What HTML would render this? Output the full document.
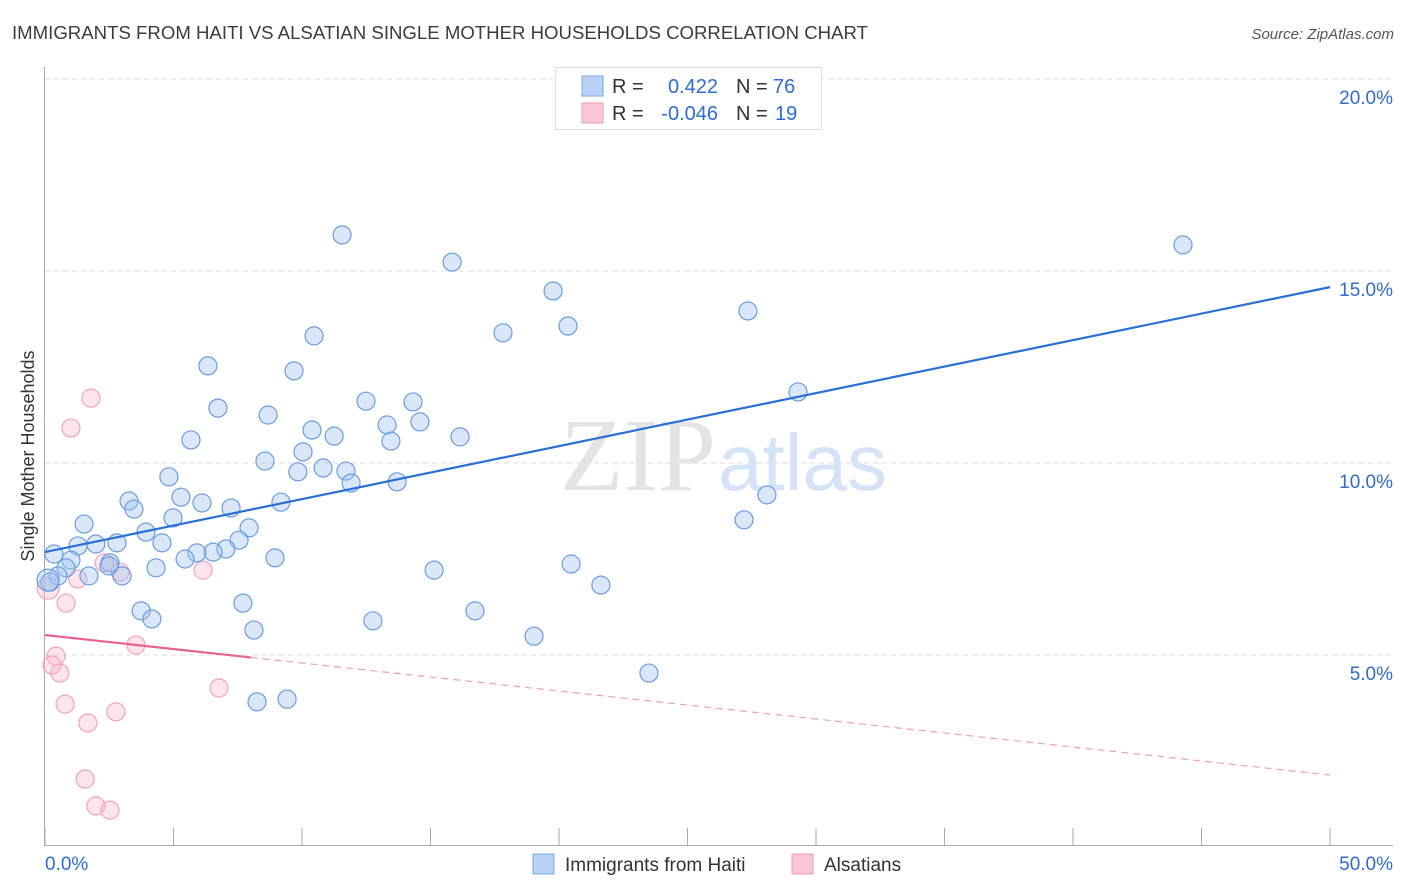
<!DOCTYPE html>
<html><head><meta charset="utf-8"><style>
body{margin:0;background:#fff;font-family:"Liberation Sans",sans-serif;}
svg{display:block}
</style></head><body>
<svg id="chart" width="1406" height="892" xmlns="http://www.w3.org/2000/svg" font-family="Liberation Sans, sans-serif">
<text x="12" y="39" font-size="18.6" fill="#3c3c3c" textLength="856" lengthAdjust="spacingAndGlyphs">IMMIGRANTS FROM HAITI VS ALSATIAN SINGLE MOTHER HOUSEHOLDS CORRELATION CHART</text>
<text x="1394" y="39" font-size="15" fill="#555" font-style="italic" text-anchor="end">Source: ZipAtlas.com</text>
<g id="grid"></g>
<g id="axes"></g>
<text x="716" y="490" font-size="104" fill="#e4e4e4" text-anchor="end" font-family="Liberation Serif, serif">ZIP</text>
<text x="718" y="490" font-size="80" fill="#d4e3f5">atlas</text>
<g id="pink"></g>
<g id="blue"></g>
<g id="trends"></g>
<text transform="translate(34,456) rotate(-90)" font-size="18" fill="#333" text-anchor="middle">Single Mother Households</text>
<g>
<rect x="555.5" y="67.5" width="266" height="62" fill="#fff" stroke="#ddd"/>
<rect x="582" y="76" width="21" height="20" fill="#b8d3f5" stroke="#7aa7e4"/>
<rect x="582" y="103" width="21" height="20" fill="#f9c6d5" stroke="#f09ab5"/>
<text x="612" y="93" font-size="20" fill="#333">R =</text>
<text x="718" y="93" font-size="20" fill="#2f6bd1" text-anchor="end">0.422</text>
<text x="736" y="93" font-size="20" fill="#333">N =</text>
<text x="773" y="93" font-size="20" fill="#2f6bd1">76</text>
<text x="612" y="120" font-size="20" fill="#333">R =</text>
<text x="718" y="120" font-size="20" fill="#2f6bd1" text-anchor="end">-0.046</text>
<text x="736" y="120" font-size="20" fill="#333">N =</text>
<text x="775" y="120" font-size="20" fill="#2f6bd1">19</text>
</g>
<g>
<rect x="533" y="854" width="21" height="20" fill="#b8d3f5" stroke="#7aa7e4"/>
<text x="565" y="871" font-size="19" fill="#333">Immigrants from Haiti</text>
<rect x="792" y="854" width="21" height="20" fill="#f9c6d5" stroke="#f09ab5"/>
<text x="824" y="871" font-size="19" fill="#333">Alsatians</text>
</g>
</svg>
<script>
const blueX=[11.56,15.84,44.28,19.77,20.35,27.35,10.47,17.82,6.34,9.69,29.30,12.49,14.32,6.73,8.68,14.59,13.31,10.39,11.25,13.46,16.15,5.68,10.04,8.56,9.84,10.82,11.71,4.82,11.91,13.70,5.29,3.27,6.11,28.09,7.24,3.46,9.18,4.98,27.20,1.52,7.94,3.93,7.55,1.98,2.80,1.28,4.55,7.04,0.35,6.54,5.91,5.45,8.95,1.01,2.53,20.47,4.32,15.14,0.82,2.49,1.71,3.00,0.51,21.63,0.19,7.70,3.74,16.73,4.16,12.76,8.13,19.03,23.50,8.25,9.42,0.12];
const blueY=[15.94,15.23,15.68,14.48,13.57,13.96,13.31,13.39,12.53,12.40,11.85,11.61,11.59,11.43,11.25,11.07,10.99,10.86,10.70,10.57,10.68,10.60,10.29,10.05,9.77,9.87,9.79,9.64,9.48,9.51,9.11,9.01,8.96,9.17,8.83,8.80,8.98,8.57,8.52,8.41,8.31,8.20,7.99,7.89,7.92,7.84,7.92,7.76,7.63,7.68,7.66,7.50,7.53,7.47,7.40,7.37,7.27,7.21,7.27,7.32,7.06,7.06,7.06,6.82,6.90,6.35,6.15,6.15,5.94,5.89,5.65,5.49,4.53,3.78,3.85,6.95];
const pinkX=[1.79,1.01,0.12,0.82,1.28,2.92,2.30,6.15,3.54,0.43,0.27,0.58,6.77,0.78,2.76,1.67,1.56,1.98,2.53];
const pinkY=[11.69,10.91,6.74,6.35,6.98,7.16,7.40,7.21,5.26,4.97,4.74,4.53,4.14,3.72,3.52,3.23,1.77,1.07,0.96];
const blueTrend=[7.68,14.58];   // y at x=0 and x=50
const pinkTrend=[5.52,1.875];
const yTicks=[5,10,15,20];
const yTickLabels=["5.0%","10.0%","15.0%","20.0%"];
const xTicks=[0,5,10,15,20,25,30,35,40,45,50];

const X0=45,X1=1330,Y0=847,PPU=38.4;
const sx=v=>X0+(X1-X0)*v/50;
const sy=v=>Y0-v*PPU;
const NS="http://www.w3.org/2000/svg";
function mk(tag,attrs,parent){const e=document.createElementNS(NS,tag);for(const k in attrs)e.setAttribute(k,attrs[k]);parent.appendChild(e);return e;}
const grid=document.getElementById('grid'),axes=document.getElementById('axes');
yTicks.forEach((t,i)=>{
  const g=mk('line',{x1:45,x2:1393,y1:sy(t),y2:sy(t),stroke:'#ddd','stroke-dasharray':'5,4'},grid);
  
  
  const l=mk('text',{x:1393,y:sy(t)+25,'font-size':19,fill:'#2f6bd1','text-anchor':'end'},axes);
  l.textContent=yTickLabels[i];
  
  
});
const ya=mk('line',{x1:44.5,x2:44.5,y1:67,y2:845,stroke:'#aaa'},axes);


const xa=mk('line',{x1:44,x2:1393,y1:845.5,y2:845.5,stroke:'#aaa'},axes);


xTicks.forEach(t=>{
  const k=mk('line',{x1:sx(t),x2:sx(t),y1:828,y2:845,stroke:'#aaa'},axes);
  
  
});
const xl0=mk('text',{x:45,y:870,'font-size':19,fill:'#2f6bd1'},axes);xl0.textContent='0.0%';


const xl1=mk('text',{x:1393,y:870,'font-size':19,fill:'#2f6bd1','text-anchor':'end'},axes);xl1.textContent='50.0%';



const pg=document.getElementById('pink');
pinkX.forEach((x,i)=>{
  const c=mk('circle',{cx:sx(x),cy:sy(pinkY[i]),r:i===2?11:9,fill:'rgba(246,180,200,0.35)',stroke:'#f2a3bb','stroke-width':1.2},pg);
  
  
});
const bg=document.getElementById('blue');
blueX.forEach((x,i)=>{
  const c=mk('circle',{cx:sx(x),cy:sy(blueY[i]),r:i===75?11:9,fill:'rgba(160,196,240,0.4)',stroke:'#6a9de0','stroke-width':1.2},bg);
  
  
});
const tg=document.getElementById('trends');
const bt=mk('line',{x1:sx(0),y1:sy(blueTrend[0]),x2:sx(50),y2:sy(blueTrend[1]),stroke:'#2a6fd6','stroke-width':2.2},tg);


const pAt=x=>pinkTrend[0]+(pinkTrend[1]-pinkTrend[0])*x/50;
const ps=mk('line',{x1:sx(0),y1:sy(pAt(0)),x2:sx(8),y2:sy(pAt(8)),stroke:'#e8628e','stroke-width':2.2},tg);


const pd=mk('line',{x1:sx(8),y1:sy(pAt(8)),x2:sx(50),y2:sy(pAt(50)),stroke:'#eea0b8','stroke-width':1.2,'stroke-dasharray':'7,5'},tg);


</script>
</body></html>
